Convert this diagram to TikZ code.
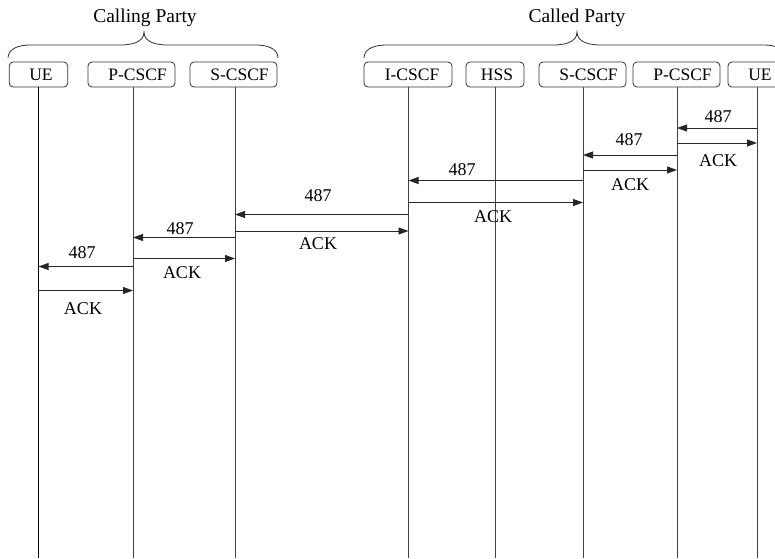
\documentclass[tikz,border=0pt]{standalone}
\usepackage{fontspec}
\setmainfont{Liberation Serif}
\usetikzlibrary{arrows.meta}
\tikzset{
  ent/.style={draw=black!80, line width=0.8pt, rounded corners=4pt, minimum height=25pt, inner sep=0pt, font=\fontsize{17.5}{19}\selectfont},
  life/.style={draw=black!75, line width=0.9pt},
  msg/.style={draw=black!85, line width=0.9pt, -{Triangle[length=10pt,width=7pt]}},
  lbl/.style={font=\fontsize{18}{20}\selectfont, inner sep=0pt},
  party/.style={font=\fontsize{19.5}{21}\selectfont, inner sep=0pt},
  brc/.style={draw=black!80, line width=0.8pt}
}
\begin{document}
\begin{tikzpicture}[x=1pt,y=-1pt]
\useasboundingbox (0,0) rectangle (775,558);
\begin{scope}
\clip (0,0) rectangle (775,558);
% headers
\node[party] (calling) at (145,18) {Calling Party};
\node[party] (called) at (577,18) {Called Party};
% braces
\draw[brc] (8,58) to[out=90,in=180] (30,45) -- (120,45) to[out=0,in=-90] (144,32) to[out=-90,in=180] (168,45) -- (256,45) to[out=0,in=90] (278,58);
\draw[brc] (364,58) to[out=90,in=180] (386,45) -- (553,45) to[out=0,in=-90] (577,32) to[out=-90,in=180] (601,45) -- (764,45) to[out=0,in=90] (786,58);
% entity boxes
\node[ent, minimum width=58.5pt] (ue1) at (38.5,74.5) {\hspace{5pt}UE};
\node[ent, minimum width=87pt] (p1) at (131.5,74.5) {\hspace{12pt}P-CSCF};
\node[ent, minimum width=87pt] (s1) at (233.5,74.5) {\hspace{12pt}S-CSCF};
\node[ent, minimum width=88pt] (i2) at (408,74.5) {\hspace{8pt}I-CSCF};
\node[ent, minimum width=58pt] (hss) at (495,74.5) {\hspace{4pt}HSS};
\node[ent, minimum width=87pt] (s2) at (582.5,74.5) {\hspace{12pt}S-CSCF};
\node[ent, minimum width=87pt] (p2) at (676.5,74.5) {\hspace{12pt}P-CSCF};
\node[ent, minimum width=58pt, anchor=west] (ue2) at (727.5,74.5) {\hspace{6pt}UE};
% lifeline ends
\coordinate (ue1e) at (38.5,558);
\coordinate (p1t) at (133,87); \coordinate (p1e) at (133,558);
\coordinate (s1t) at (235,87); \coordinate (s1e) at (235,558);
\coordinate (i2t) at (408.5,87); \coordinate (i2e) at (408.5,558);
\coordinate (hsst) at (495.5,87); \coordinate (hsse) at (495.5,558);
\coordinate (s2t) at (583,87); \coordinate (s2e) at (583,558);
\coordinate (p2t) at (677,87); \coordinate (p2e) at (677,558);
\coordinate (ue2t) at (757,87); \coordinate (ue2e) at (757,558);
\draw[life, draw=black, line width=1.6pt] (ue1.south) -- (ue1e);
\draw[life] (p1t) -- (p1e);
\draw[life] (s1t) -- (s1e);
\draw[life] (i2t) -- (i2e);
\draw[life] (hsst) -- (hsse);
\draw[life] (s2t) -- (s2e);
\draw[life] (p2t) -- (p2e);
\draw[life] (ue2t) -- (ue2e);
% message anchor points
\coordinate (m1a) at (757,128); \coordinate (m1b) at (677,128);
\coordinate (m2a) at (677,143); \coordinate (m2b) at (757,143);
\coordinate (m3a) at (677,155); \coordinate (m3b) at (583,155);
\coordinate (m4a) at (583,170); \coordinate (m4b) at (677,170);
\coordinate (m5a) at (583,180.5); \coordinate (m5b) at (408.5,180.5);
\coordinate (m6a) at (408.5,202.5); \coordinate (m6b) at (583,202.5);
\coordinate (m7a) at (408.5,214.5); \coordinate (m7b) at (235,214.5);
\coordinate (m8a) at (235,231); \coordinate (m8b) at (408.5,231);
\coordinate (m9a) at (235,237.5); \coordinate (m9b) at (133,237.5);
\coordinate (m10a) at (133,258.5); \coordinate (m10b) at (235,258.5);
\coordinate (m11a) at (133,266.5); \coordinate (m11b) at (38.5,266.5);
\coordinate (m12a) at (38.5,290.5); \coordinate (m12b) at (133,290.5);
\draw[msg] (m1a) -- (m1b);
\draw[msg] (m2a) -- (m2b);
\draw[msg] (m3a) -- (m3b);
\draw[msg] (m4a) -- (m4b);
\draw[msg] (m5a) -- (m5b);
\draw[msg] (m6a) -- (m6b);
\draw[msg] (m7a) -- (m7b);
\draw[msg] (m8a) -- (m8b);
\draw[msg] (m9a) -- (m9b);
\draw[msg] (m10a) -- (m10b);
\draw[msg] (m11a) -- (m11b);
\draw[msg] (m12a) -- (m12b);
% labels
\node[lbl] (l1) at (718,117) {487};
\node[lbl] (l2) at (718,161) {ACK};
\node[lbl] (l3) at (629,139.5) {487};
\node[lbl] (l4) at (630,185) {ACK};
\node[lbl] (l5) at (462,170) {487};
\node[lbl] (l6) at (493,217) {ACK};
\node[lbl] (l7) at (318,195.5) {487};
\node[lbl] (l8) at (318,244) {ACK};
\node[lbl] (l9) at (180,229) {487};
\node[lbl] (l10) at (182,273) {ACK};
\node[lbl] (l11) at (82,252.5) {487};
\node[lbl] (l12) at (83,309) {ACK};
\end{scope}
\end{tikzpicture}
\end{document}
